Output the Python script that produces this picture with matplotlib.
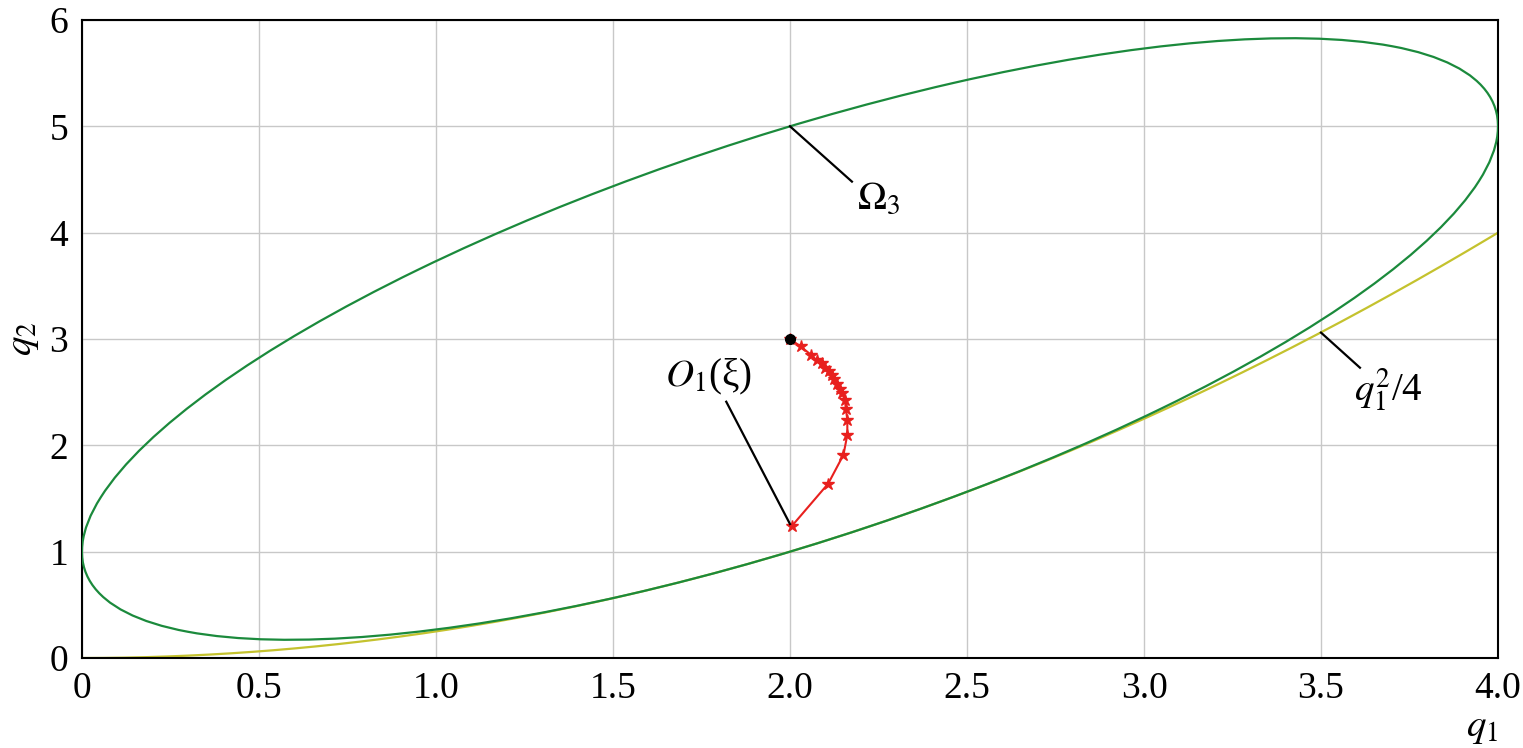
import numpy as np
import matplotlib.pyplot as plt
from matplotlib.patches import Ellipse

# ellipse Omega_3: (p - c)^T M (p - c) = 1
ell_center = (2.0, 3.0)
ell_M = np.array([[0.5, -0.25],
                  [-0.25, 0.25]])

# trajectory O_1(xi)
traj_q1 = [2.00, 2.03, 2.06, 2.075, 2.09, 2.10, 2.11, 2.118, 2.125, 2.132,
           2.14, 2.146, 2.155, 2.158, 2.162, 2.162, 2.151, 2.108, 2.005]
traj_q2 = [3.00, 2.93, 2.85, 2.80, 2.77, 2.73, 2.70, 2.66, 2.62, 2.58,
           2.53, 2.49, 2.43, 2.34, 2.24, 2.10, 1.91, 1.64, 1.24]

xticks = [0, 0.5, 1.0, 1.5, 2.0, 2.5, 3.0, 3.5, 4.0]
xticklabels = ['0', '0.5', '1.0', '1.5', '2.0', '2.5', '3.0', '3.5', '4.0']
yticks = [0, 1, 2, 3, 4, 5, 6]

# callouts: (text, point on curve, end of leader line, text centre)
callouts = [
    (r'$\Omega_3$', (2.0, 5.0), (2.175, 4.48), (2.25, 4.31)),
    (r'$O_1$(ξ)', (2.0, 1.26), (1.82, 2.41), (1.77, 2.64)),
    (r'$q_1^2$/4', (3.5, 3.06), (3.61, 2.73), (3.69, 2.52)),
]

plt.rcParams['font.family'] = ['Liberation Serif', 'DejaVu Serif']
plt.rcParams['mathtext.fontset'] = 'stix'

GREEN = '#1b8a3c'
YELLOW = '#c4c22e'
RED = '#e8201e'

fig = plt.figure(figsize=(15.23, 7.48), dpi=100)
ax = fig.add_axes([0.0538, 0.1203, 0.9298, 0.853])

# ellipse from quadratic form
w, v = np.linalg.eigh(ell_M)
axes_len = 2 / np.sqrt(w)
angle = np.degrees(np.arctan2(v[1, 0], v[0, 0]))
ax.add_patch(Ellipse(ell_center, axes_len[0], axes_len[1], angle=angle,
                     fill=False, edgecolor=GREEN, lw=1.6, zorder=3))

q1 = np.linspace(0, 4, 400)
ax.plot(q1, q1 ** 2 / 4, color=YELLOW, lw=1.6, zorder=2)

ax.plot(traj_q1, traj_q2, color=RED, lw=1.5, marker='*', ms=9, zorder=4)
ax.plot(traj_q1[0], traj_q2[0], 'o', color='black', ms=7, zorder=5)

for label, (x0, y0), (x1, y1), (tx, ty) in callouts:
    ax.plot([x0, x1], [y0, y1], color='black', lw=1.6, zorder=6)
    ax.text(tx, ty, label, fontsize=28, ha='center', va='center')

ax.set_xlim(0, 4)
ax.set_ylim(0, 6)
ax.set_xticks(xticks)
ax.set_xticklabels(xticklabels)
ax.set_yticks(yticks)
ax.tick_params(length=0, labelsize=27, pad=10)
ax.grid(True, color='#c8c8c8', lw=1.0)
ax.set_axisbelow(True)
for sp in ax.spines.values():
    sp.set_linewidth(1.5)

ax.set_xlabel(r'$q_1$', fontsize=28, loc='right', labelpad=2)
ax.set_ylabel(r'$q_2$', fontsize=28, labelpad=6)

fig.savefig('out.png', dpi=100)
